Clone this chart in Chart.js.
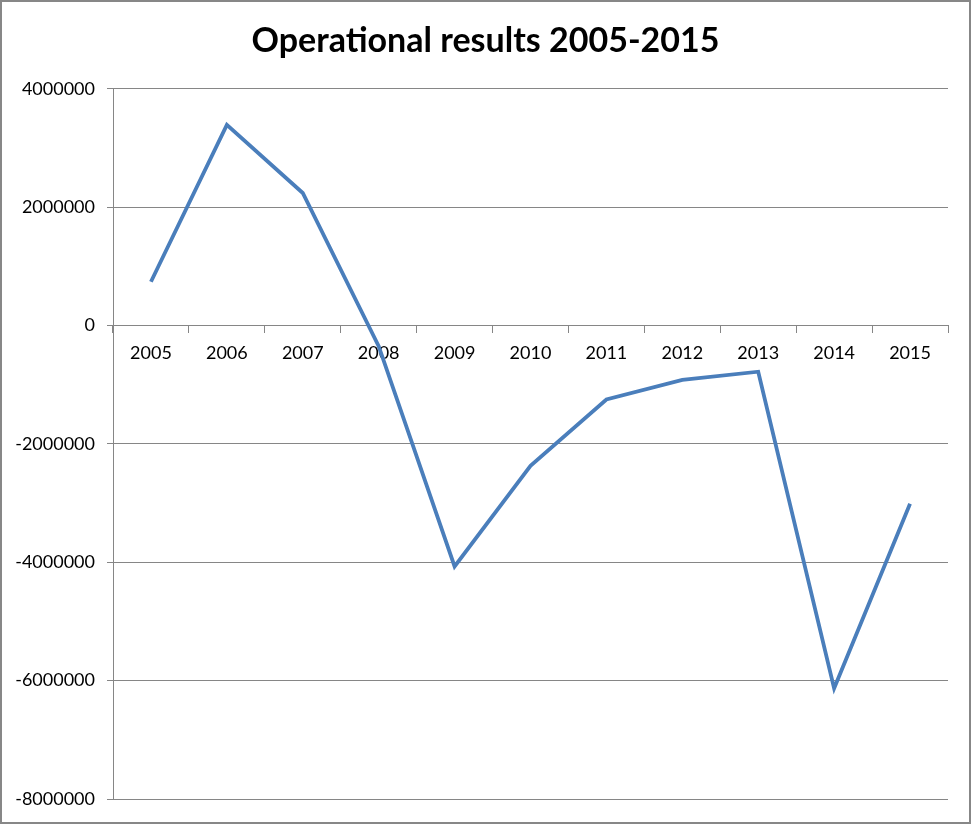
<!DOCTYPE html>
<html>
<head>
<meta charset="utf-8">
<script src="https://cdn.jsdelivr.net/npm/chart.js@4"></script>
<style>
    html, body { margin: 0; padding: 0; background: #fff; }
    #wrap {
        width: 971px;
        height: 824px;
        box-sizing: border-box;
        border: 2px solid #878787;
        position: relative;
    }
    #chart { display: block; }
</style>
</head>
<body>
<div id="wrap">
    <canvas id="chart" width="967" height="820"></canvas>
</div>
<script>
// Data
const years = ['2005', '2006', '2007', '2008', '2009', '2010', '2011', '2012', '2013', '2014', '2015'];
const results = [740000, 3390000, 2240000, -350000, -4070000, -2370000, -1250000, -920000, -780000, -6130000, -3010000];
const yTicks = [4000000, 2000000, 0, -2000000, -4000000, -6000000, -8000000];

const gridGray = '#868686';
const fontFamily = 'Lato, "Open Sans", sans-serif';

// stretch the title box over the whole canvas so it sits in the middle
const centerTitle = {
    id: 'centerTitle',
    afterLayout(chart) {
        const t = chart.titleBlock;
        if (t) {
            t.left = 0;
            t.right = chart.width;
        }
    }
};

const ctx = document.getElementById('chart').getContext('2d');

new Chart(ctx, {
    type: 'line',
    data: {
        labels: years,
        datasets: [{
            label: 'Operational results',
            data: results,
            borderColor: '#4a7ebb',
            backgroundColor: '#4a7ebb',
            borderWidth: 3.8,
            pointRadius: 0,
            tension: 0,
        }]
    },
    plugins: [centerTitle],
    options: {
        responsive: false,
        animation: false,
        layout: {
            padding: { left: 0, right: 21, top: 0, bottom: 23 }
        },
        plugins: {
            legend: { display: false },
            tooltip: { enabled: false },
            title: {
                display: true,
                text: 'Operational results 2005-2015',
                color: '#000',
                font: { family: fontFamily, size: 34, weight: 'bold', lineHeight: 1.2 },
                padding: { top: 19, bottom: 27 }
            }
        },
        scales: {
            x: {
                type: 'category',
                position: { y: 0 },
                offset: true,
                grid: {
                    display: true,
                    offset: true,
                    drawOnChartArea: false,
                    drawTicks: true,
                    tickLength: 7,
                    color: gridGray,
                },
                border: { display: true, color: gridGray },
                ticks: {
                    color: '#000',
                    padding: 10,
                    maxRotation: 0,
                    font: { family: fontFamily, size: 18 }
                }
            },
            y: {
                min: -8000000,
                max: 4000000,
                afterBuildTicks: function(scale) {
                    scale.ticks = yTicks.map(v => ({ value: v }));
                },
                afterFit: function(scale) {
                    scale.width = 111;
                },
                grid: {
                    color: gridGray,
                    tickLength: 6,
                },
                border: { display: true, color: gridGray },
                ticks: {
                    color: '#000',
                    padding: 12,
                    font: { family: fontFamily, size: 18 },
                    callback: function(value) {
                        return String(value);
                    }
                }
            }
        }
    }
});
</script>
</body>
</html>
